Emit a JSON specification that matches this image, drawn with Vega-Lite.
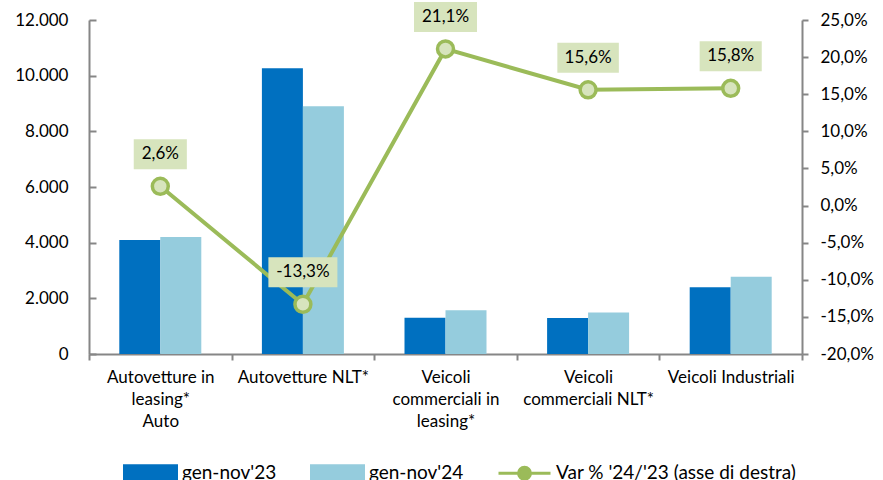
{
  "$schema": "https://vega.github.io/schema/vega-lite/v6.json",
  "width": 713,
  "height": 334,
  "autosize": {"type": "none"},
  "padding": {"left": 89, "top": 20, "right": 81, "bottom": 126},
  "background": "white",
  "config": {
    "font": "Lato",
    "view": {"stroke": null},
    "axis": {
      "grid": false,
      "domainColor": "#868686",
      "tickColor": "#868686",
      "domainWidth": 2,
      "tickWidth": 2,
      "labelColor": "#000000",
      "labelFontSize": 17,
      "labelFont": "Lato"
    }
  },
  "datasets": {
    "bars": [
      {"cat": "Autovetture in\nleasing*\nAuto", "series": "gen-nov'23", "value": 4100},
      {"cat": "Autovetture in\nleasing*\nAuto", "series": "gen-nov'24", "value": 4207},
      {"cat": "Autovetture NLT*", "series": "gen-nov'23", "value": 10270},
      {"cat": "Autovetture NLT*", "series": "gen-nov'24", "value": 8905},
      {"cat": "Veicoli\ncommerciali in\nleasing*", "series": "gen-nov'23", "value": 1300},
      {"cat": "Veicoli\ncommerciali in\nleasing*", "series": "gen-nov'24", "value": 1574},
      {"cat": "Veicoli\ncommerciali NLT*", "series": "gen-nov'23", "value": 1290},
      {"cat": "Veicoli\ncommerciali NLT*", "series": "gen-nov'24", "value": 1491},
      {"cat": "Veicoli Industriali", "series": "gen-nov'23", "value": 2400},
      {"cat": "Veicoli Industriali", "series": "gen-nov'24", "value": 2779}
    ],
    "var": [
      {"cat": "Autovetture in\nleasing*\nAuto", "var": 0.026},
      {"cat": "Autovetture NLT*", "var": -0.133},
      {"cat": "Veicoli\ncommerciali in\nleasing*", "var": 0.211},
      {"cat": "Veicoli\ncommerciali NLT*", "var": 0.156},
      {"cat": "Veicoli Industriali", "var": 0.158}
    ]
  },
  "layer": [
    {
      "data": {"name": "bars"},
      "mark": {"type": "bar"},
      "encoding": {
        "x": {
          "field": "cat", "type": "nominal", "sort": null,
          "scale": {"paddingInner": 0, "paddingOuter": 0},
          "axis": {
            "title": null, "labelAngle": 0, "tickBand": "extent", "tickSize": 6,
            "labelPadding": 9, "labelExpr": "split(datum.label, '\\n')",
            "labelLineHeight": 22, "labelBaseline": "top", "labelLimit": 0
          }
        },
        "xOffset": {
          "field": "series", "type": "nominal", "sort": null,
          "scale": {"paddingInner": 0, "paddingOuter": 0.739}
        },
        "y": {
          "field": "value", "type": "quantitative",
          "scale": {"domain": [0, 12000], "nice": false},
          "axis": {
            "title": null, "values": [0, 2000, 4000, 6000, 8000, 10000, 12000],
            "labelExpr": "replace(format(datum.value, ',d'), ',', '.')",
            "tickSize": -7, "labelPadding": 28
          }
        },
        "color": {
          "field": "series", "type": "nominal",
          "scale": {
            "domain": ["gen-nov'23", "gen-nov'24", "Var % '24/'23 (asse di destra)"],
            "range": ["#0070C0", "#95CCDD", "#9BBB59"]
          },
          "legend": {
            "orient": "none", "legendX": 34, "legendY": 425,
            "direction": "horizontal", "title": null,
            "labelFontSize": 19, "labelFont": "Lato", "labelColor": "#000000",
            "columnPadding": 28, "labelOffset": 4, "symbolSize": 2704,
            "labelLimit": 0,
            "encode": {
              "symbols": {
                "update": {
                  "shape": {"signal": "indexof(datum.label, 'Var') === 0 ? 'M-1,0H-0.23A0.23,0.23 0 1,1 0.23,0A0.23,0.23 0 1,1 -0.23,0M0.23,0H1' : 'M-1,-0.27H1V0.27H-1Z'"},
                  "fill": {"signal": "indexof(datum.label, 'Var') === 0 ? '#d7e4bd' : scale('color', datum.value)"},
                  "stroke": {"signal": "indexof(datum.label, 'Var') === 0 ? '#9BBB59' : 'transparent'"},
                  "strokeWidth": {"value": 3},
                  "opacity": {"value": 1},
                  "fillOpacity": {"value": 1}
                }
              }
            }
          }
        }
      }
    },
    {
      "data": {"name": "var"},
      "transform": [
        {"calculate": "replace(replace(format(datum.var, '.1%'), '.', ','), '−', '-')", "as": "lab"}
      ],
      "encoding": {
        "x": {"field": "cat", "type": "nominal", "sort": null},
        "y": {
          "field": "var", "type": "quantitative",
          "scale": {"domain": [-0.2, 0.25], "nice": false, "zero": false},
          "axis": {
            "title": null, "orient": "right",
            "values": [-0.2, -0.15, -0.1, -0.05, 0, 0.05, 0.1, 0.15, 0.2, 0.25],
            "labelExpr": "replace(replace(format(datum.value, '.1%'), '.', ','), '−', '-')",
            "tickSize": 6, "labelPadding": 12
          }
        }
      },
      "layer": [
        {
          "mark": {"type": "line", "strokeWidth": 4},
          "encoding": {"color": {"datum": "Var % '24/'23 (asse di destra)"}}
        },
        {
          "mark": {"type": "point", "filled": true, "color": "#D7E4BD", "opacity": 1, "size": 900, "yOffset": -32},
          "encoding": {
            "shape": {
              "field": "lab", "type": "nominal",
              "scale": {
                "domain": ["2,6%", "-13,3%", "21,1%", "15,6%", "15,8%"],
                "range": ["M-1.77,-1H1.77V1H-1.77Z", "M-2.3,-1H2.3V1H-2.3Z", "M-2.1,-1H2.1V1H-2.1Z", "M-2.05,-1H2.05V1H-2.05Z", "M-2.07,-1H2.07V1H-2.07Z"]
              },
              "legend": null
            }
          }
        },
        {
          "mark": {"type": "text", "dy": -32, "fontSize": 17, "color": "#000000", "font": "Lato"},
          "encoding": {"text": {"field": "lab"}}
        },
        {
          "mark": {"type": "point", "shape": "circle", "filled": true, "fill": "#D7E4BD", "stroke": "#9BBB59", "strokeWidth": 3.5, "size": 254, "opacity": 1},
          "encoding": {}
        }
      ]
    }
  ],
  "resolve": {"scale": {"y": "independent"}}
}
